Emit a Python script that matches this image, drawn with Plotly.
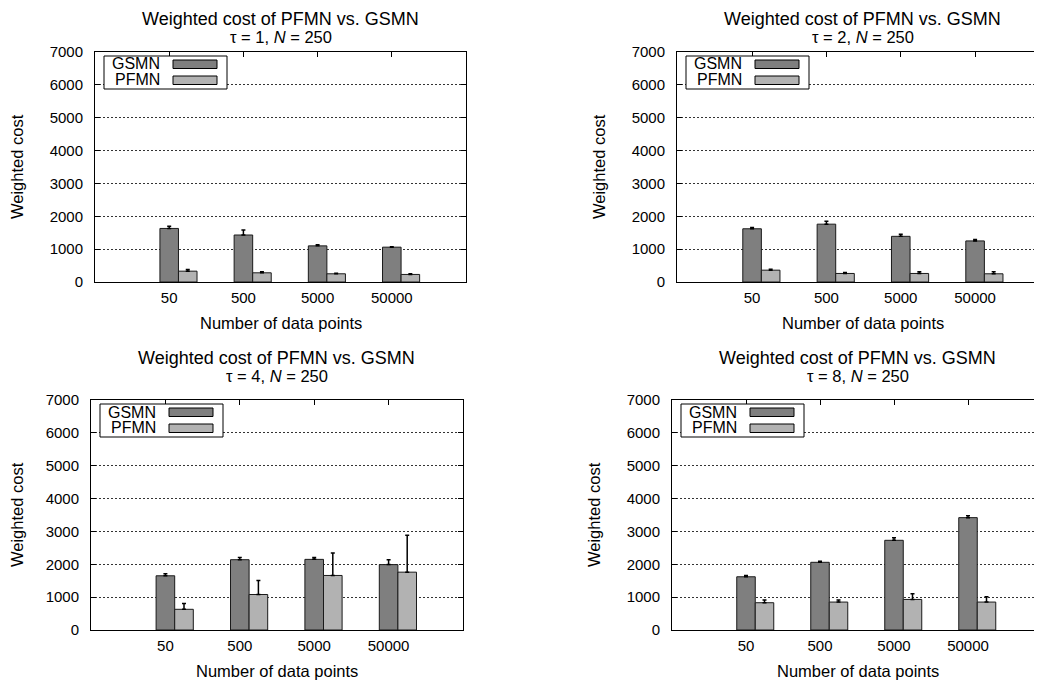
import plotly.graph_objects as go

# page is shown with an 8px body margin; the figure is sized to fill the rest
OFF = 8
W, H = 1042 - OFF, 684 - OFF

categories = ["50", "500", "5000", "50000"]
series_names = ["GSMN", "PFMN"]

tau1_gsmn = [1630, 1430, 1100, 1060]
tau1_gsmn_err = [70, 150, 30, 15]
tau1_pfmn = [330, 280, 250, 230]
tau1_pfmn_err = [50, 30, 20, 20]

tau2_gsmn = [1620, 1760, 1390, 1250]
tau2_gsmn_err = [40, 90, 60, 40]
tau2_pfmn = [360, 260, 260, 250]
tau2_pfmn_err = [30, 30, 50, 60]

tau4_gsmn = [1650, 2140, 2150, 1990]
tau4_gsmn_err = [60, 70, 60, 150]
tau4_pfmn = [630, 1080, 1660, 1760]
tau4_pfmn_err = [180, 430, 680, 1120]

tau8_gsmn = [1620, 2060, 2730, 3420]
tau8_gsmn_err = [40, 30, 80, 60]
tau8_pfmn = [830, 850, 930, 850]
tau8_pfmn_err = [80, 60, 170, 160]

main_title = "Weighted cost of PFMN vs. GSMN"
subtitles = ["τ = 1, <i>N</i> = 250", "τ = 2, <i>N</i> = 250",
             "τ = 4, <i>N</i> = 250", "τ = 8, <i>N</i> = 250"]
x_title = "Number of data points"
y_title = "Weighted cost"
y_ticks = [0, 1000, 2000, 3000, 4000, 5000, 6000, 7000]

colors = ["#7f7f7f", "#b2b2b2"]
FONT = "Liberation Sans, Arial, Helvetica, sans-serif"

# panel geometry (page pixels): left, top, right, bottom, x-range, is_cut
panels = [
    dict(l=95, t=52, r=466, b=282, xr=[-1, 4], cut=False,
         g=tau1_gsmn, ge=tau1_gsmn_err, p=tau1_pfmn, pe=tau1_pfmn_err),
    dict(l=677, t=52, r=1042, b=282, xr=[-1.01, 3.90], cut=True,
         g=tau2_gsmn, ge=tau2_gsmn_err, p=tau2_pfmn, pe=tau2_pfmn_err),
    dict(l=91, t=400, r=463, b=630, xr=[-1, 4], cut=False,
         g=tau4_gsmn, ge=tau4_gsmn_err, p=tau4_pfmn, pe=tau4_pfmn_err),
    dict(l=672, t=400, r=1042, b=630, xr=[-1, 4], cut=True,
         g=tau8_gsmn, ge=tau8_gsmn_err, p=tau8_pfmn, pe=tau8_pfmn_err),
]


def fx(p):
    return (p - OFF) / W


def fy(p):
    return 1 - (p - OFF) / H


def text_ann(text, x, y, size, xanchor="center", angle=0):
    return dict(text=text, x=fx(x), y=fy(y), xref="paper", yref="paper",
                xanchor=xanchor, yanchor="middle", showarrow=False,
                textangle=angle,
                font=dict(family=FONT, size=size, color="#000"))


fig = go.Figure()
shapes = []
annotations = []

for i, pn in enumerate(panels):
    k = "" if i == 0 else str(i + 1)
    xa, ya = "x" + k, "y" + k
    for name, vals, errs, col, off in [
        (series_names[0], pn["g"], pn["ge"], colors[0], -0.125),
        (series_names[1], pn["p"], pn["pe"], colors[1], 0.125),
    ]:
        fig.add_trace(go.Bar(
            x=categories, y=vals, name=name, xaxis=xa, yaxis=ya,
            offset=off, width=0.25,
            marker=dict(color=col, line=dict(color="#1a1a1a", width=1)),
            error_y=dict(type="data", array=errs, arrayminus=[0] * len(errs),
                         symmetric=False, color="#000", thickness=1.5, width=2),
            showlegend=False,
        ))

    axis_common = dict(showline=True, linecolor="#000", linewidth=1,
                       ticks="inside", ticklen=5, tickcolor="#000",
                       automargin=False,
                       tickfont=dict(family=FONT, size=15, color="#000"))
    fig.layout["xaxis" + k] = dict(
        domain=[fx(pn["l"]), fx(pn["r"]) if not pn["cut"] else 1.0],
        anchor=ya, type="category", range=pn["xr"], mirror="ticks",
        showgrid=False, ticklabelstandoff=2, layer="below traces",
        **axis_common)
    fig.layout["yaxis" + k] = dict(
        domain=[fy(pn["b"]), fy(pn["t"])], anchor=xa, range=[0, 7000],
        tickvals=y_ticks, mirror=("ticks" if not pn["cut"] else False),
        showgrid=True, gridcolor="#333", gridwidth=1, griddash="2px,2px",
        zeroline=False, ticklabelstandoff=8, **axis_common)

    cx = pn["l"] + 185.5
    title_y = max(pn["t"] - 42, 19)
    sub_y = title_y + 18
    annotations.append(text_ann(main_title, cx, title_y, 18))
    annotations.append(text_ann(subtitles[i], cx, sub_y, 16.5))
    annotations.append(text_ann(x_title, cx, pn["b"] + 41, 16.5))
    annotations.append(text_ann(y_title, max(pn["l"] - 78, 17),
                                (pn["t"] + pn["b"]) / 2, 16.5, angle=-90))

    # gnuplot-style key: label on the left, sample box on the right
    L, T = pn["l"], pn["t"]
    shapes.append(dict(type="rect", xref="paper", yref="paper",
                       x0=fx(L + 9), x1=fx(L + 132), y0=fy(T + 37), y1=fy(T + 4),
                       fillcolor="#fff", line=dict(color="#000", width=1),
                       layer="above"))
    for j, name in enumerate(series_names):
        yc = T + 12 + 16 * j
        shapes.append(dict(type="rect", xref="paper", yref="paper",
                           x0=fx(L + 78), x1=fx(L + 122),
                           y0=fy(yc + 4.5), y1=fy(yc - 4),
                           fillcolor=colors[j], line=dict(color="#000", width=1),
                           layer="above"))
        annotations.append(text_ann(name, L + 67, yc, 16, xanchor="right"))

fig.update_layout(
    template="none",
    width=W, height=H, margin=dict(l=0, r=0, t=0, b=0, pad=0),
    paper_bgcolor="#fff", plot_bgcolor="#fff",
    barmode="overlay", shapes=shapes, annotations=annotations,
    font=dict(family=FONT, color="#000"), showlegend=False,
)

fig.write_html("out.html")
